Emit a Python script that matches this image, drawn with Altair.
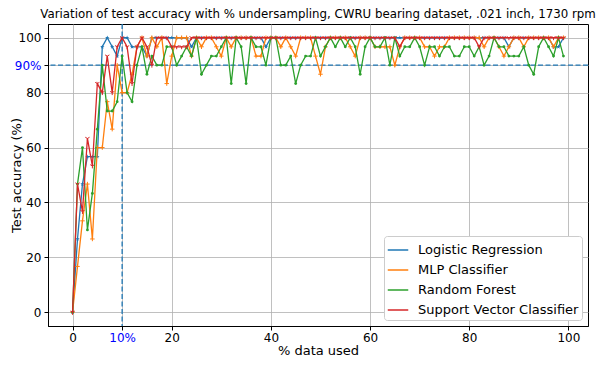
import altair as alt
import pandas as pd

pct_used = list(range(100))

logistic_regression = [
    0, 26.7, 46.7, 56.7, 56.7, 56.7, 96.7, 100, 96.7, 93.3,
    100, 100, 96.7, 96.7, 96.7, 93.3, 100, 100, 100, 100,
    100, 100, 100, 100, 96.7, 100, 100, 100, 100, 100,
    100, 100, 100, 100, 100, 100, 100, 100, 100, 96.7,
    100, 100, 100, 100, 100, 100, 100, 100, 100, 100,
    100, 100, 100, 100, 100, 100, 100, 100, 100, 100,
    100, 100, 100, 100, 100, 100, 100, 100, 100, 100,
    100, 100, 100, 100, 100, 100, 100, 100, 100, 100,
    100, 100, 100, 100, 100, 100, 100, 100, 96.7, 100,
    100, 100, 100, 100, 100, 100, 100, 96.7, 96.7, 100,
]

mlp_classifier = [
    0, 16.7, 33.3, 46.7, 26.7, 60, 60, 76.7, 66.7, 90,
    80, 80, 86.7, 96.7, 100, 93.3, 100, 96.7, 100, 83.3,
    93.3, 100, 100, 100, 93.3, 100, 96.7, 100, 100, 96.7,
    93.3, 100, 96.7, 100, 100, 100, 100, 93.3, 93.3, 100,
    100, 100, 96.7, 100, 96.7, 93.3, 100, 100, 100, 93.3,
    86.7, 96.7, 100, 100, 100, 100, 96.7, 93.3, 100, 100,
    100, 96.7, 96.7, 96.7, 96.7, 90, 96.7, 100, 100, 100,
    100, 96.7, 96.7, 93.3, 96.7, 96.7, 100, 100, 100, 100,
    100, 100, 100, 96.7, 100, 100, 96.7, 93.3, 96.7, 100,
    100, 96.7, 100, 100, 100, 100, 100, 96.7, 100, 100,
]

random_forest = [
    0, 46.7, 60, 30, 43.3, 66.7, 90, 73.3, 73.3, 76.7,
    93.3, 80, 76.7, 90, 96.7, 86.7, 93.3, 90, 90, 96.7,
    96.7, 90, 93.3, 96.7, 93.3, 100, 86.7, 90, 93.3, 93.3,
    96.7, 100, 83.3, 100, 96.7, 83.3, 100, 96.7, 96.7, 90,
    100, 100, 90, 90, 93.3, 83.3, 90, 93.3, 93.3, 100,
    93.3, 96.7, 100, 96.7, 100, 96.7, 100, 96.7, 86.7, 96.7,
    100, 96.7, 96.7, 100, 90, 100, 93.3, 96.7, 96.7, 100,
    96.7, 90, 96.7, 96.7, 93.3, 96.7, 96.7, 93.3, 93.3, 96.7,
    96.7, 93.3, 96.7, 90, 93.3, 100, 96.7, 96.7, 93.3, 93.3,
    93.3, 96.7, 90, 86.7, 96.7, 100, 96.7, 93.3, 100, 93.3,
]

support_vector = [
    0, 46.7, 36.7, 63.3, 53.3, 83.3, 80, 93.3, 80, 96.7,
    100, 96.7, 83.3, 96.7, 100, 96.7, 90, 100, 100, 100,
    96.7, 96.7, 96.7, 96.7, 100, 100, 100, 100, 100, 100,
    100, 100, 100, 100, 100, 100, 100, 100, 100, 100,
    100, 100, 100, 100, 100, 100, 100, 100, 100, 100,
    100, 100, 100, 100, 100, 100, 100, 100, 100, 100,
    100, 100, 100, 100, 100, 100, 96.7, 100, 100, 100,
    100, 100, 100, 100, 100, 100, 100, 100, 100, 100,
    100, 100, 96.7, 100, 100, 100, 100, 100, 100, 100,
    100, 100, 100, 100, 100, 100, 100, 100, 100, 100,
]

series_names = ["Logistic Regression", "MLP Classifier", "Random Forest",
                "Support Vector Classifier"]
series_values = [logistic_regression, mlp_classifier, random_forest, support_vector]
series_colors = ["#1f77b4", "#ff7f0e", "#2ca02c", "#d62728"]

STAR = ("M0,-1L0.2245,-0.309L0.951,-0.309L0.363,0.118L0.588,0.809L0,0.382"
        "L-0.588,0.809L-0.363,0.118L-0.951,-0.309L-0.2245,-0.309Z")
PLUS = "M-1,0L1,0M0,-1L0,1"
TRI = "M0,0L0,1M0,0L-0.866,-0.5M0,0L0.866,-0.5"
marker_styles = [
    dict(shape=STAR, filled=True, size=22),
    dict(shape=PLUS, filled=False, size=20, strokeWidth=1),
    dict(shape="circle", filled=True, size=8),
    dict(shape=TRI, filled=False, size=24, strokeWidth=1),
]

threshold_acc = [90]
threshold_pct = [10]

rows = []
for name, vals in zip(series_names, series_values):
    for xv, yv in zip(pct_used, vals):
        rows.append({"pct": xv, "acc": yv, "model": name})
df = pd.DataFrame(rows)

FONT = "DejaVu Sans"

x_scale = alt.Scale(domain=[-4.95, 103.95], nice=False, zero=False)
y_scale = alt.Scale(domain=[-5, 105], nice=False, zero=False)

x_axis = alt.Axis(
    values=[0, 10, 20, 40, 60, 80, 100],
    labelExpr="datum.value == 10 ? '10%' : datum.label",
    labelColor={"condition": {"test": "datum.value == 10", "value": "#0000ff"},
                "value": "black"},
    title="% data used", grid=True, gridColor="#b0b0b0", gridWidth=0.8,
    tickSize=4, labelPadding=2, titlePadding=1,
    labelFontSize=12, titleFontSize=13, labelFont=FONT, titleFont=FONT,
    domainColor="black", tickColor="black", titleFontWeight="normal",
    labelFlush=False,
)
y_axis = alt.Axis(
    values=[0, 20, 40, 60, 80, 90, 100],
    labelExpr="datum.value == 90 ? '90%' : datum.label",
    labelColor={"condition": {"test": "datum.value == 90", "value": "#0000ff"},
                "value": "black"},
    title="Test accuracy (%)", grid=True, gridColor="#b0b0b0", gridWidth=0.8,
    tickSize=4, labelPadding=3, titleX=-28, titleBaseline="alphabetic",
    labelFontSize=12, titleFontSize=13, labelFont=FONT, titleFont=FONT,
    domainColor="black", tickColor="black", titleFontWeight="normal",
    labelFlush=False,
)

X = alt.X("pct:Q", scale=x_scale, axis=x_axis)
Y = alt.Y("acc:Q", scale=y_scale, axis=y_axis)

color_scale = alt.Scale(domain=series_names, range=series_colors)
legend = alt.Legend(
    title=None, orient="bottom-right", offset=6,
    labelFontSize=13, labelFont=FONT, symbolType="stroke",
    symbolSize=420, symbolStrokeWidth=1.5, rowPadding=2,
    padding=3, fillColor="white", strokeColor="#cccccc",
    cornerRadius=3, labelLimit=300, labelOffset=9,
)

layers = []
for i, name in enumerate(series_names):
    sub = df[df["model"] == name]
    line = alt.Chart(sub).mark_line(strokeWidth=1.3).encode(
        x=X, y=Y,
        color=alt.Color("model:N", scale=color_scale, legend=legend),
    )
    pts = alt.Chart(sub).mark_point(color=series_colors[i], opacity=1,
                                    **marker_styles[i]).encode(x=X, y=Y)
    layers += [line, pts]

hline = alt.Chart(pd.DataFrame({"acc": threshold_acc})).mark_rule(
    color="#1f77b4", strokeDash=[5, 2.5], strokeWidth=1.3
).encode(y=Y)
vline = alt.Chart(pd.DataFrame({"pct": threshold_pct})).mark_rule(
    color="#1f77b4", strokeDash=[5, 2.5], strokeWidth=1.3
).encode(x=X)

chart = alt.layer(hline, vline, *layers).properties(
    width=540, height=302,
    title=alt.TitleParams(
        "Variation of test accuracy with % undersampling, CWRU bearing dataset, .021 inch, 1730 rpm",
        fontSize=11.8, font=FONT, fontWeight="normal", anchor="middle",
        frame="group", offset=3,
    ),
    autosize=alt.AutoSizeParams(type="none"),
    padding={"left": 40, "top": 16, "right": 17, "bottom": 33},
).configure_view(stroke="black", strokeWidth=1).configure_axis(
    gridOpacity=1
)

chart.save("out.html", embed_options={"renderer": "svg", "actions": False})
